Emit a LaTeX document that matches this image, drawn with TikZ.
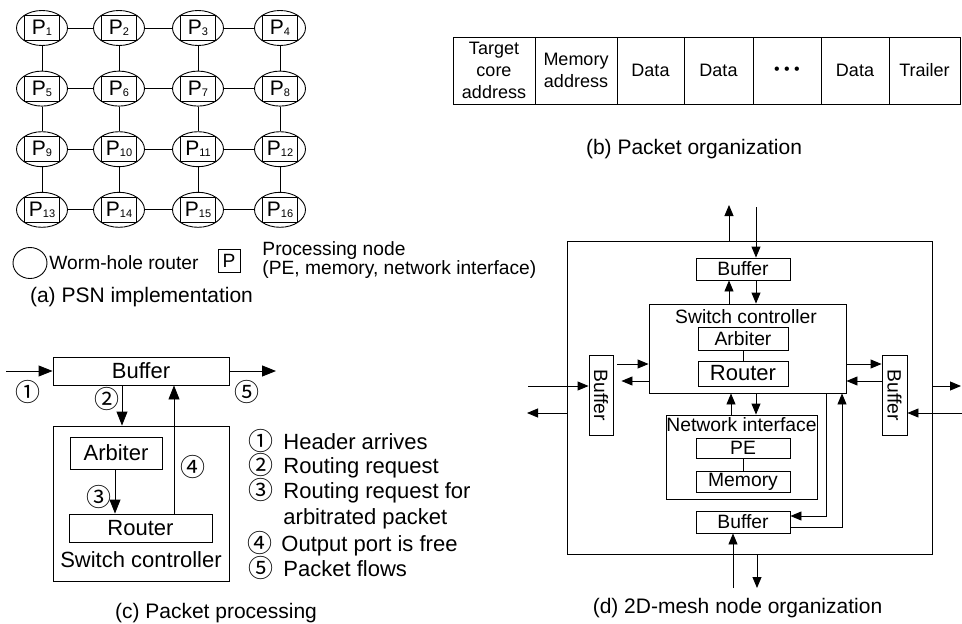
\documentclass[tikz,border=0pt]{standalone}
\usepackage{fontspec}
\setmainfont{Liberation Sans}
\newfontfamily\symfont{Noto Sans CJK SC}
\usetikzlibrary{arrows.meta,shapes.geometric,positioning}
\tikzstyle{router} = [draw, ellipse, minimum width=51pt, minimum height=35pt, inner sep=0pt]
\tikzstyle{pnode} = [draw, rectangle, minimum width=35pt, minimum height=25pt, inner sep=0pt, font=\fontsize{21}{21}\selectfont]
\tikzstyle{cell} = [draw, rectangle, minimum height=67pt, inner sep=0pt, align=center, font=\fontsize{18}{22}\selectfont]
\tikzstyle{box} = [draw, rectangle, inner sep=0pt]
\tikzstyle{legend} = [inner sep=0pt, font=\fontsize{19.2}{16.7}\selectfont]
\tikzstyle{ctext} = [inner sep=0pt, font=\fontsize{22}{25.5}\selectfont]
\tikzstyle{dtext} = [inner sep=0pt, font=\fontsize{19.3}{20}\selectfont]
\tikzstyle{caption} = [inner sep=0pt, font=\fontsize{21}{24}\selectfont]
\tikzstyle{num} = [inner sep=0pt, font=\symfont\fontsize{25}{25}\selectfont]
\tikzstyle{arr} = [-{Triangle[length=11pt,width=9pt]}]
\tikzstyle{bigarr} = [-{Triangle[length=14pt,width=11pt]}]
\newcommand{\Pn}[1]{P\raisebox{-1pt}{\fontsize{11}{10}\selectfont #1}}

\begin{document}
\begin{tikzpicture}[x=1pt, y=-1pt, line width=0.9pt]
	\useasboundingbox (0,0) rectangle (962,624);

	\foreach \y [count=\i from 0] in {28,88.6,149.2,209.8}
		\foreach \x [count=\j from 1] in {42,119,198,280} {
			\pgfmathtruncatemacro{\n}{4*\i+\j}
			\node[router] (r\n) at (\x,\y) {};
			\node[pnode] (p\n) at (r\n) {\Pn{\n}};
		}
	\foreach \n in {1,2,3,5,6,7,9,10,11,13,14,15} {
		\pgfmathtruncatemacro{\m}{\n+1}
		\draw (r\n) -- (r\m);
	}
	\foreach \n in {1,...,12} {
		\pgfmathtruncatemacro{\m}{\n+4}
		\draw (r\n) -- (r\m);
	}
	\node[router, minimum width=34pt, minimum height=31pt] (wr) at (30,263) {};
	\node[legend, anchor=west] (wr-text) at (49,263) {Worm-hole router};
	\node[box, legend, minimum width=22pt, minimum height=23pt] (pb) at (229,260.5) {P};
	\node[legend, anchor=west, align=left] (pb-text) at (262,260) {Processing node\\(PE, memory, network interface)};
	\node[caption] (cap-a) at (141.5,297) {(a) PSN implementation};

	\node[cell, minimum width=82pt] (f1) at (494,70.5) {Target\\core\\address};
	\node[cell, minimum width=82pt] (f2) at (576,70.5) {Memory\\address};
	\node[cell, minimum width=67pt] (f3) at (650.5,70.5) {Data};
	\node[cell, minimum width=69pt] (f4) at (718.5,70.5) {Data};
	\node[cell, minimum width=68pt, font=\fontsize{16}{16}\selectfont] (f5) at (787,70.5) {• • •};
	\node[cell, minimum width=68pt] (f6) at (855,70.5) {Data};
	\node[cell, minimum width=71pt] (f7) at (924.5,70.5) {Trailer};
	\node[caption] (cap-b) at (694,149) {(b) Packet organization};

	\node[box, ctext, minimum width=176pt, minimum height=28pt] (cbuf) at (141,371) {Buffer};
	\node[box, minimum width=176pt, minimum height=155pt] (csw) at (141,503.5) {};
	\node[box, ctext, minimum width=92pt, minimum height=32pt] (carb) at (116,453) {Arbiter};
	\node[box, ctext, minimum width=143pt, minimum height=28pt] (crtr) at (140.5,528) {Router};
	\node[ctext] (csw-text) at (141,560) {Switch controller};
	\coordinate (cin) at (6,371);
	\coordinate (cout) at (276,371);
	\coordinate (c2) at (122,0);
	\coordinate (c3) at (115,0);
	\coordinate (c4) at (174,0);
	\draw[bigarr] (cin) -- (cbuf);
	\draw[bigarr] (cbuf) -- (cout);
	\draw[bigarr] (cbuf.south -| c2) -- (csw.north -| c2);
	\draw[bigarr] (carb.south -| c3) -- (crtr.north -| c3);
	\draw[bigarr] (crtr.north -| c4) -- (cbuf.south -| c4);
	\node[num] (l1) at (28,392) {①};
	\node[num] (l2) at (107,399) {②};
	\node[num] (l3) at (99,497) {③};
	\node[num] (l4) at (193,467) {④};
	\node[num] (l5) at (247,392) {⑤};
	\node[num] (k1) at (261,441) {①};
	\node[num] (k2) at (261,465) {②};
	\node[num] (k3) at (261,490) {③};
	\node[num] (k4) at (260,543) {④};
	\node[num] (k5) at (261,568) {⑤};
	\node[ctext, anchor=base west] (t1) at (283,449) {Header arrives};
	\node[ctext, anchor=base west] (t2) at (283,473) {Routing request};
	\node[ctext, anchor=base west] (t3) at (283,498) {Routing request for};
	\node[ctext, anchor=base west] (t3b) at (283,524) {arbitrated packet};
	\node[ctext, anchor=base west] (t4) at (281,551) {Output port is free};
	\node[ctext, anchor=base west] (t5) at (283,576) {Packet flows};
	\node[caption] (cap-c) at (216,613) {(c) Packet processing};

	\node[box, minimum width=365pt, minimum height=313pt] (outer) at (749.5,397.5) {};
	\node[box, dtext, minimum width=94pt, minimum height=22pt] (tbuf) at (743,269) {Buffer};
	\node[box, minimum width=197pt, minimum height=89pt] (sw) at (747.5,348.5) {};
	\node[dtext] (sw-text) at (746,317) {Switch controller};
	\node[box, dtext, minimum width=90pt, minimum height=23pt] (arb) at (743,338.5) {Arbiter};
	\node[box, ctext, minimum width=90pt, minimum height=25pt] (rtr) at (743,373.5) {Router};
	\node[box, minimum width=24pt, minimum height=80pt] (lbuf) at (601,395) {};
	\node[dtext, rotate=-90] (lbuf-text) at (lbuf) {Buffer};
	\node[box, minimum width=25pt, minimum height=80pt] (rbuf) at (894.5,395) {};
	\node[dtext, rotate=-90] (rbuf-text) at (rbuf) {Buffer};
	\node[box, minimum width=151pt, minimum height=84pt] (ni) at (741.5,457) {};
	\node[dtext] (ni-text) at (741.5,425) {Network interface};
	\node[box, dtext, minimum width=94pt, minimum height=20pt] (pe) at (743,448) {PE};
	\node[box, dtext, minimum width=94pt, minimum height=21pt] (mem) at (743,481.5) {Memory};
	\node[box, dtext, minimum width=94pt, minimum height=22pt] (bbuf) at (743,522) {Buffer};
	\node[caption] (cap-d) at (737.5,608) {(d) 2D-mesh node organization};
	\draw (arb) -- (rtr);
	\draw (pe) -- (mem);

	\coordinate (tout) at (729,205);
	\coordinate (tin) at (756,207);
	\coordinate (lin) at (528,386);
	\coordinate (lout) at (527,413);
	\coordinate (rout) at (961,386);
	\coordinate (rin) at (962,413);
	\coordinate (bin) at (733,588);
	\coordinate (bout) at (757,588);
	\coordinate (ya) at (0,364);
	\coordinate (yb) at (0,381);
	\coordinate (xc) at (731,0);
	\coordinate (xd) at (826,516);
	\coordinate (xe) at (842,527);
	\draw[arr] (outer.north -| tout) -- (tout);
	\draw[arr] (tin) -- (tbuf.north -| tin);
	\draw[arr] (sw.north -| tout) -- (tbuf.south -| tout);
	\draw[arr] (tbuf.south -| tin) -- (sw.north -| tin);
	\draw[arr] (lin) -- (lbuf.west |- lin);
	\draw[arr] (outer.west |- lout) -- (lout);
	\draw[arr, shorten <=4pt] (lbuf.east |- ya) -- (sw.west |- ya);
	\draw[arr, shorten >=8pt] (sw.west |- yb) -- (lbuf.east |- yb);
	\draw[arr] (sw.east |- ya) -- (rbuf.west |- ya);
	\draw[arr] (rbuf.west |- yb) -- (sw.east |- yb);
	\draw[arr] (outer.east |- rout) -- (rout);
	\draw[arr] (rin) -- (rbuf.east |- rin);
	\draw[arr] (ni.north -| xc) -- (sw.south -| xc);
	\draw[arr] (sw.south -| tin) -- (ni.north -| tin);
	\draw[arr] (sw.south -| xd) |- (bbuf.east |- xd);
	\draw[arr] (bbuf.east |- xe) -| (sw.south -| xe);
	\draw[arr] (bin) -- (bbuf.south -| bin);
	\draw[arr] (outer.south -| bout) -- (bout);

\end{tikzpicture}
\end{document}
